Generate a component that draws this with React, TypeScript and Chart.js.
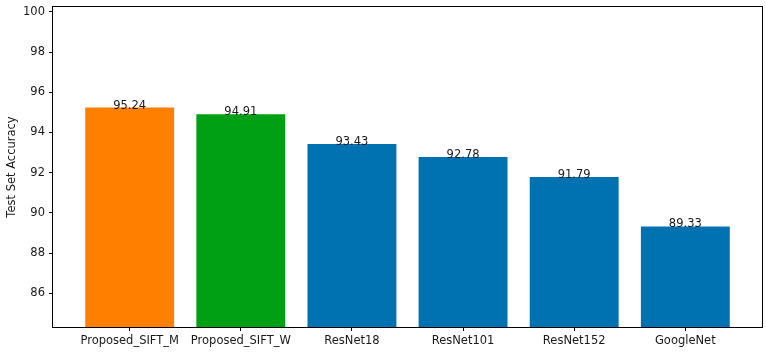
import React, { useEffect, useRef } from "react";
import { Chart, registerables } from "chart.js";

Chart.register(...registerables);

// Model names and their test-set accuracy (%)
const models = ["Proposed_SIFT_M", "Proposed_SIFT_W", "ResNet18", "ResNet101", "ResNet152", "GoogleNet"];
const accuracy = [95.24, 94.91, 93.43, 92.78, 91.79, 89.33];
const barColors = ["#ff7f00", "#00a014", "#0072b2", "#0072b2", "#0072b2", "#0072b2"];
const yTicks = [86, 88, 90, 92, 94, 96, 98, 100];

const FONT = "DejaVu Sans";
const FONT_SIZE = 11.5;
const TEXT = "#1a1a1a";

// Frame, axis title and value annotations
const decorations = {
  id: "decorations",
  afterDatasetsDraw(chart: any) {
    const { ctx, chartArea } = chart;
    const { left, right, top, bottom } = chartArea;
    ctx.save();
    ctx.strokeStyle = "#000";
    ctx.lineWidth = 1;
    ctx.strokeRect(Math.round(left) - 0.5, Math.round(top) - 0.5, Math.round(right - left) + 1, Math.round(bottom - top) + 1);

    // value labels, baseline at the bar top
    ctx.fillStyle = TEXT;
    ctx.font = `${FONT_SIZE}px "${FONT}"`;
    ctx.textAlign = "center";
    ctx.textBaseline = "alphabetic";
    const meta = chart.getDatasetMeta(0);
    meta.data.forEach((bar: any, i: number) => {
      ctx.fillText(accuracy[i].toFixed(2), bar.x, chart.scales.y.getPixelForValue(accuracy[i]) + 1);
    });

    // y-axis title
    ctx.translate(12, (top + bottom) / 2);
    ctx.rotate(-Math.PI / 2);
    ctx.textBaseline = "middle";
    ctx.fillText("Test Set Accuracy", 0, 0);
    ctx.restore();
  },
};

export default function App() {
  const canvasRef = useRef<HTMLCanvasElement | null>(null);

  useEffect(() => {
    document.body.style.margin = "0";
    const canvas = canvasRef.current;
    if (!canvas) return;
    const chart = new Chart(canvas, {
      type: "bar",
      data: {
        datasets: [
          {
            data: accuracy.map((v, i) => ({ x: i, y: v })),
            backgroundColor: barColors,
            borderWidth: 0,
            categoryPercentage: 1,
            barPercentage: 0.8,
          },
        ],
      },
      options: {
        animation: false,
        responsive: false,
        maintainAspectRatio: false,
        layout: { padding: { top: 7, right: 4, left: 0, bottom: 0 } },
        plugins: { legend: { display: false }, tooltip: { enabled: false } },
        scales: {
          x: {
            type: "linear",
            offset: false,
            min: -0.69,
            max: models.length - 1 + 0.69,
            afterBuildTicks: (scale: any) => {
              scale.ticks = models.map((_, i) => ({ value: i }));
            },
            afterFit: (scale: any) => {
              scale.height = 26;
              scale.paddingLeft = 0;
              scale.paddingRight = 0;
            },
            ticks: {
              padding: 3,
              color: TEXT,
              font: { family: FONT, size: FONT_SIZE },
              maxRotation: 0,
              autoSkip: false,
              callback: (v: any) => models[v as number] ?? "",
            },
            grid: { offset: false, drawOnChartArea: false, drawTicks: true, tickLength: 4, color: "#000" },
            border: { display: false },
          },
          y: {
            type: "linear",
            min: 84.33,
            max: 100.24,
            afterBuildTicks: (scale: any) => {
              scale.ticks = yTicks.map((v) => ({ value: v }));
            },
            afterFit: (scale: any) => {
              scale.width = 53;
              scale.paddingTop = 0;
              scale.paddingBottom = 0;
            },
            ticks: {
              padding: 4,
              color: TEXT,
              font: { family: FONT, size: FONT_SIZE },
              callback: (v: any) => String(v),
            },
            grid: { drawOnChartArea: false, drawTicks: true, tickLength: 4, color: "#000" },
            border: { display: false },
          },
        },
      },
      plugins: [decorations],
    });
    return () => chart.destroy();
  }, []);

  return (
    <div style={{ position: "absolute", left: 0, top: 0, width: 766, height: 353, background: "#fff" }}>
      <canvas ref={canvasRef} width={766} height={353} style={{ width: 766, height: 353 }} />
    </div>
  );
}
